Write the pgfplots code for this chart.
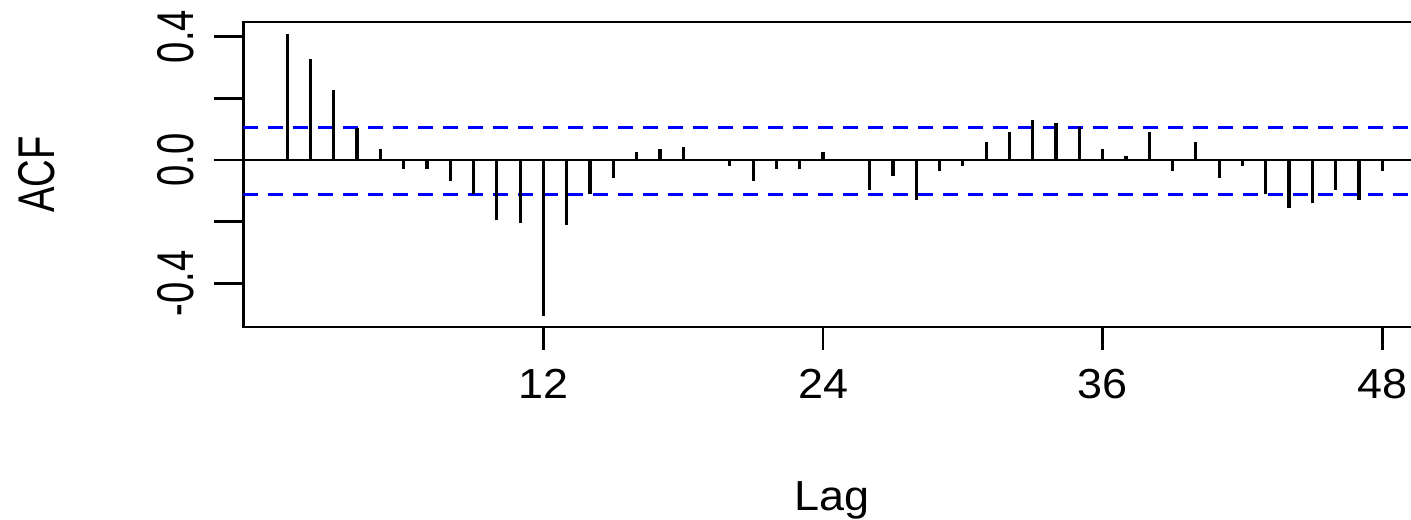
\documentclass[border=0pt]{standalone}
\usepackage{fontspec}
\setmainfont{Liberation Sans}
\usepackage{graphicx}
\usepackage{pgfplots}
\usepackage{pgfplotstable}
\pgfplotsset{compat=1.18}
\pgfplotstableread{
lag acf
1 0.410
2 0.329
3 0.226
4 0.105
5 0.035
6 -0.028
7 -0.028
8 -0.068
9 -0.111
10 -0.196
11 -0.203
12 -0.507
13 -0.212
14 -0.111
15 -0.060
16 0.026
17 0.035
18 0.042
19 0.000
20 -0.019
21 -0.068
22 -0.028
23 -0.028
24 0.026
25 0.000
26 -0.098
27 -0.052
28 -0.131
29 -0.036
30 -0.019
31 0.058
32 0.091
33 0.131
34 0.121
35 0.106
36 0.035
37 0.012
38 0.091
39 -0.036
40 0.058
41 -0.060
42 -0.019
43 -0.111
44 -0.156
45 -0.139
46 -0.098
47 -0.131
48 -0.036
}\acfdata
\newcommand{\hs}[1]{\scalebox{1.07}[1]{\fontsize{21}{25}\selectfont #1}}
\newcommand{\vs}[1]{\rotatebox{90}{\scalebox{0.91}[1.23]{\fontsize{21}{25}\selectfont #1}}}
\begin{document}
\begin{tikzpicture}
\begin{axis}[
  at={(121.65pt,-163.5pt)}, anchor=south west,
  scale only axis, width=591.35pt, height=152.5pt,
  xmin=-0.88, xmax=49.88, ymin=-0.5417, ymax=0.4476,
  axis line style={line width=1.3pt, black},
  tick align=outside,
  xtick pos=left, ytick pos=left,
  xtick={12,24,36,48},
  xticklabels={\hs{12},\hs{24},\hs{36},\hs{48}},
  ytick={-0.4,-0.2,0,0.2,0.4},
  yticklabels={\vs{-0.4},{},\vs{0.0},{},\vs{0.4}},
  xtick style={line width=1.3pt, black, /pgfplots/major tick length=11.5pt},
  ytick style={line width=1.3pt, black, /pgfplots/major tick length=14.5pt},
  xticklabel style={anchor=base, inner sep=0pt, yshift=-31.5pt},
  yticklabel style={anchor=east, inner sep=0pt, xshift=-20.15pt},
  xlabel={\hs{Lag}},
  ylabel={\scalebox{0.91}[1.23]{\fontsize{21}{25}\selectfont ACF}},
  xlabel style={at={(axis description cs:0.498,-0.6)}, anchor=base, inner sep=0pt},
  ylabel style={at={(axis description cs:-0.1749,0.5)}, anchor=center, inner sep=0pt},
]
\addplot[black, line width=1.3pt, forget plot] coordinates {(-0.88,0) (49.88,0)};
\addplot[blue, line width=1.5pt, dash pattern=on 7.5pt off 5pt, forget plot] coordinates {(-0.88,0.104) (49.88,0.104)};
\addplot[blue, line width=1.5pt, dash pattern=on 7.5pt off 5pt, forget plot] coordinates {(-0.88,-0.111) (49.88,-0.111)};
\addplot[ycomb, black, line width=1.6pt, mark=none] table[x=lag, y=acf] {\acfdata};
\end{axis}
\pgfresetboundingbox
\useasboundingbox (0,0) rectangle (705.5pt,-259.5pt);
\end{tikzpicture}
\end{document}
